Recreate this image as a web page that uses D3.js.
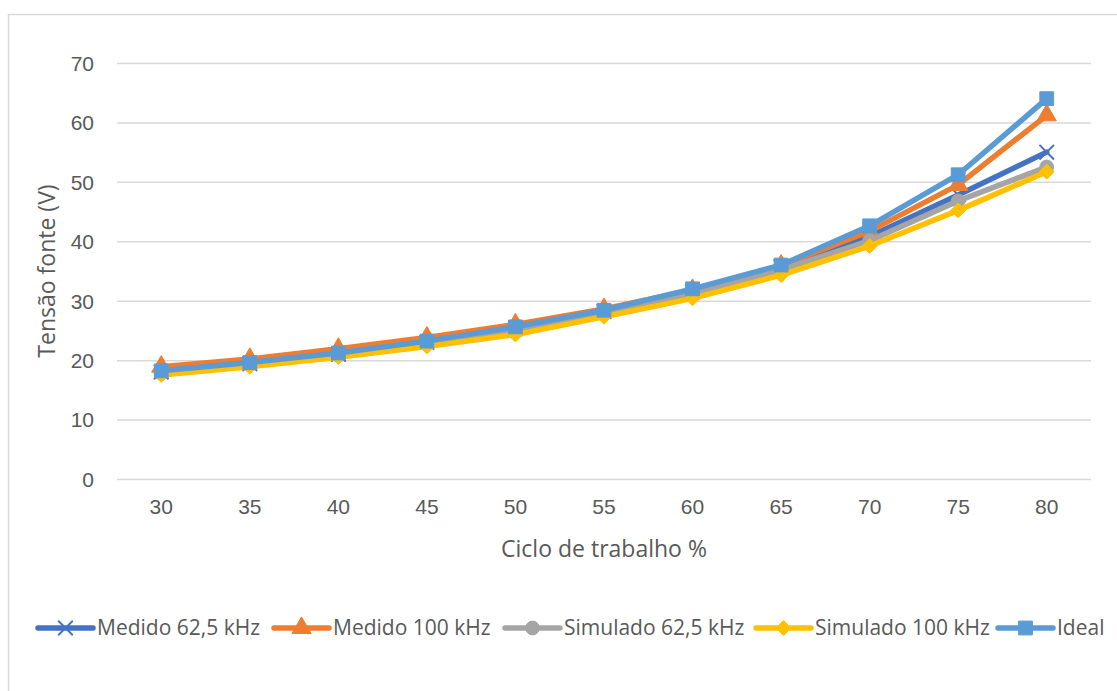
<!DOCTYPE html>
<html>
<head>
<meta charset="utf-8">
<script src="https://cdn.jsdelivr.net/npm/d3@7"></script>
<style>
  html, body { margin: 0; padding: 0; background: #fff; }
  svg { display: block; font-family: "Open Sans", "Liberation Sans", sans-serif; }
</style>
</head>
<body>
<svg id="chart" width="1117" height="691"></svg>
<script>
// Duty cycle (%) on the horizontal axis
const categories = ["30", "35", "40", "45", "50", "55", "60", "65", "70", "75", "80"];

// Source voltage (V) for each series
const medido625 = [18.0, 19.4, 21.0, 23.0, 25.3, 28.2, 31.5, 35.7, 40.8, 47.8, 55.0];
const medido100 = [18.9, 20.2, 21.9, 23.8, 26.0, 28.6, 31.8, 35.9, 41.7, 49.5, 61.2];
const simulado625 = [17.8, 19.2, 20.8, 22.7, 25.0, 27.8, 31.0, 35.2, 40.1, 46.8, 52.5];
const simulado100 = [17.5, 18.9, 20.5, 22.3, 24.3, 27.3, 30.4, 34.3, 39.2, 45.2, 51.7];
const ideal = [18.2, 19.6, 21.2, 23.2, 25.6, 28.4, 32.0, 36.0, 42.6, 51.2, 64.0];

const yTicks = [0, 10, 20, 30, 40, 50, 60, 70];

const seriesNames = ["Medido 62,5 kHz", "Medido 100 kHz", "Simulado 62,5 kHz", "Simulado 100 kHz", "Ideal"];
const seriesColors = ["#4472C4", "#ED7D31", "#A5A5A5", "#FFC000", "#5B9BD5"];
const seriesMarkers = ["cross", "triangle", "circle", "diamond", "square"];
const seriesValues = [medido625, medido100, simulado625, simulado100, ideal];

const series = seriesNames.map((name, i) => ({
  name, color: seriesColors[i], marker: seriesMarkers[i], values: seriesValues[i]
}));

const svg = d3.select("#chart");
const textColor = "#595959";
const gridColor = "#d9d9d9";

// Chart area frame
svg.append("rect")
  .attr("x", 8.5).attr("y", 14.5)
  .attr("width", 1130).attr("height", 700)
  .attr("fill", "none").attr("stroke", gridColor).attr("stroke-width", 1.5);

const plot = { left: 117, right: 1091, top: 63, bottom: 479 };

const x = d3.scaleBand().domain(categories).range([plot.left, plot.right]);
const y = d3.scaleLinear().domain([0, 70]).range([plot.bottom, plot.top]);
const cx = d => x(d) + x.bandwidth() / 2;

// Horizontal gridlines with value labels
const yAxis = d3.axisLeft(y).tickValues(yTicks).tickSize(-(plot.right - plot.left)).tickPadding(23);
const gy = svg.append("g").attr("transform", `translate(${plot.left},0)`).call(yAxis);
gy.select(".domain").remove();
gy.selectAll(".tick line").attr("stroke", gridColor).attr("stroke-width", 1.5);
gy.selectAll(".tick text")
  .attr("fill", textColor).style("font-size", "21px")
  .attr("dy", "0.35em");

// Category labels
const xAxis = d3.axisBottom(x).tickSize(0).tickPadding(20);
const gx = svg.append("g").attr("transform", `translate(0,${plot.bottom})`).call(xAxis);
gx.select(".domain").remove();
gx.selectAll(".tick text").attr("fill", textColor).style("font-size", "21px");

// Axis titles
svg.append("text")
  .attr("x", 604).attr("y", 557)
  .attr("text-anchor", "middle")
  .attr("fill", textColor).style("font-size", "23px")
  .text("Ciclo de trabalho %");

svg.append("text")
  .attr("transform", "translate(55,271) rotate(-90)")
  .attr("text-anchor", "middle")
  .attr("fill", textColor).style("font-size", "23px")
  .text("Tensão fonte (V)");

// Marker shapes
const squareDiamond = {
  draw(context, size) {
    const r = Math.sqrt(size / 2);
    context.moveTo(0, -r);
    context.lineTo(r, 0);
    context.lineTo(0, r);
    context.lineTo(-r, 0);
    context.closePath();
  }
};

const symbolFor = {
  circle: d3.symbol().type(d3.symbolCircle).size(150),
  square: d3.symbol().type(d3.symbolSquare).size(190),
  triangle: d3.symbol().type(d3.symbolTriangle).size(160),
  diamond: d3.symbol().type(squareDiamond).size(110),
  cross: d3.symbol().type(d3.symbolX).size(140)
};

function drawMarker(g, kind, color, px, py) {
  const p = g.append("path")
    .attr("d", symbolFor[kind]())
    .attr("transform", `translate(${px},${py})`);
  if (kind === "cross") {
    p.attr("fill", "none").attr("stroke", color).attr("stroke-width", 2);
  } else {
    p.attr("fill", color).attr("stroke", color).attr("stroke-width", 1);
  }
}

const line = d3.line().x((d, i) => cx(categories[i])).y(d => y(d));

series.forEach(s => {
  const g = svg.append("g");
  g.append("path")
    .attr("d", line(s.values))
    .attr("fill", "none")
    .attr("stroke", s.color)
    .attr("stroke-width", 5.5)
    .attr("stroke-linejoin", "round")
    .attr("stroke-linecap", "round");
  s.values.forEach((v, i) => drawMarker(g, s.marker, s.color, cx(categories[i]), y(v)));
});

// Legend
const legendY = 628;
const legendStarts = [38, 274, 505, 756, 998];
series.forEach((s, i) => {
  const g = svg.append("g").attr("transform", `translate(${legendStarts[i]},${legendY})`);
  g.append("line")
    .attr("x1", 0).attr("x2", 55)
    .attr("stroke", s.color).attr("stroke-width", 5.5)
    .attr("stroke-linecap", "round");
  drawMarker(g, s.marker, s.color, 27.5, 0);
  g.append("text")
    .attr("x", 59).attr("dy", "0.35em")
    .attr("fill", textColor).style("font-size", "21px")
    .text(s.name);
});
</script>
</body>
</html>
